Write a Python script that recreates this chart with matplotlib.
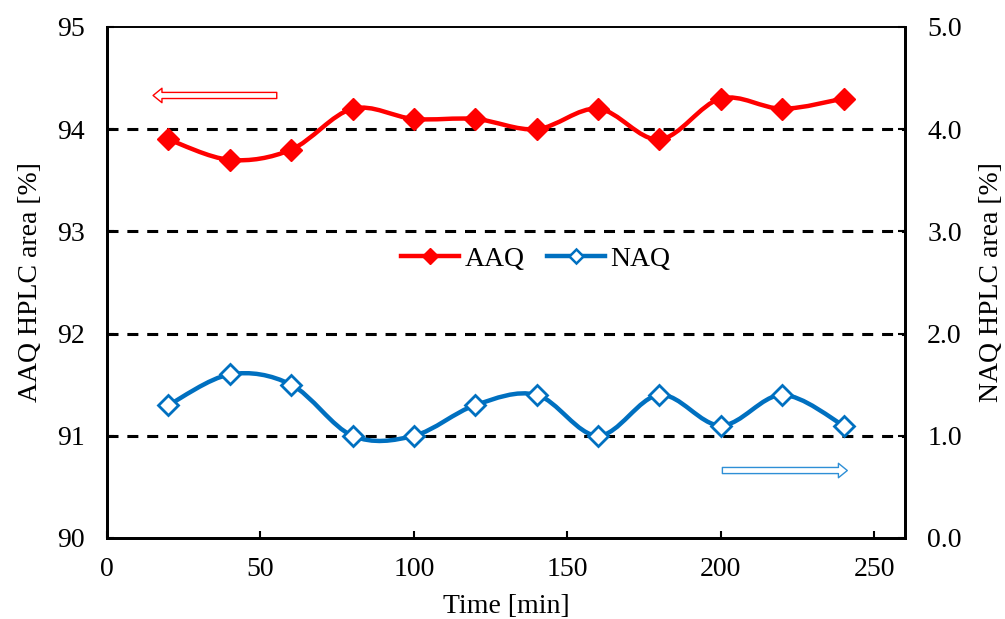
import numpy as np
import matplotlib
matplotlib.use("Agg")
import matplotlib.pyplot as plt
from matplotlib.path import Path
from matplotlib.patches import PathPatch
from matplotlib.lines import Line2D

plt.rcParams['font.family'] = ['Liberation Serif', 'DejaVu Serif']

time_min = [20, 40, 60, 80, 100, 120, 140, 160, 180, 200, 220, 240]
aaq_area = [93.9, 93.7, 93.8, 94.2, 94.1, 94.1, 94.0, 94.2, 93.9, 94.3, 94.2, 94.3]
naq_area = [1.3, 1.6, 1.5, 1.0, 1.0, 1.3, 1.4, 1.0, 1.4, 1.1, 1.4, 1.1]
x_ticks = [0, 50, 100, 150, 200, 250]
left_ticks = [90, 91, 92, 93, 94, 95]
right_ticks = [0.0, 1.0, 2.0, 3.0, 4.0, 5.0]

RED = '#FF0000'
BLUE = '#0070C0'
ARROW_BLUE = '#2E8FD6'
FS = 20


def smooth_path(xs, ys):
    """Excel-like smoothed line as cubic Bezier path through the points."""
    p = np.column_stack([xs, ys]).astype(float)
    n = len(p)
    verts = [p[0]]
    codes = [Path.MOVETO]
    for i in range(n - 1):
        p0 = p[i - 1] if i > 0 else p[i]
        p1 = p[i]
        p2 = p[i + 1]
        p3 = p[i + 2] if i + 2 < n else p[i + 1]
        c1 = p1 + (p2 - p0) / 6.0
        c2 = p2 - (p3 - p1) / 6.0
        verts += [c1, c2, p2]
        codes += [Path.CURVE4] * 3
    return Path(verts, codes)


fig = plt.figure(figsize=(10.05, 6.19), dpi=100)
ax = fig.add_axes([0.1065, 0.1309, 0.794, 0.8255])
ax2 = ax.twinx()

ax.set_xlim(0, 260)
ax.set_ylim(90, 95)
ax2.set_ylim(0, 5)

# gridlines
for v in left_ticks[1:-1]:
    ax.axhline(v, color='black', lw=2.2, ls=(0, (3.6, 2.9)), zorder=1)

# AAQ
ax.add_patch(PathPatch(smooth_path(time_min, aaq_area), fc='none', ec=RED, lw=3.2,
                       zorder=3, capstyle='round'))
ax.plot(time_min, aaq_area, ls='none', marker='D', ms=11, mfc=RED, mec=RED, zorder=4)

# NAQ
ax2.add_patch(PathPatch(smooth_path(time_min, naq_area), fc='none', ec=BLUE, lw=3.2,
                        zorder=3, capstyle='round'))
ax2.plot(time_min, naq_area, ls='none', marker='D', ms=10, mfc='white', mec=BLUE,
         mew=2.0, zorder=4)

# direction arrows
arrow_style = 'simple,head_length=0.8,head_width=1.3,tail_width=0.55'
ax.annotate('', xy=(15, 94.33), xytext=(55.3, 94.33),
            arrowprops=dict(arrowstyle=arrow_style, fc='white', ec=RED, lw=1.0,
                            mutation_scale=8, shrinkA=0, shrinkB=0))
ax2.annotate('', xy=(241.2, 0.66), xytext=(200.5, 0.66),
             arrowprops=dict(arrowstyle=arrow_style, fc='white', ec=ARROW_BLUE, lw=1.0,
                             mutation_scale=8, shrinkA=0, shrinkB=0))

# ticks and labels
ax.set_xticks(x_ticks)
ax.set_yticks(left_ticks)
ax.set_yticklabels([str(v) for v in left_ticks])
ax2.set_yticks(right_ticks)
ax2.set_yticklabels([f'{v:.1f}' for v in right_ticks])

ax.tick_params(axis='x', direction='in', length=5, width=1.5, pad=14, labelsize=FS)
ax.tick_params(axis='y', direction='in', length=5, width=1.5, pad=16, labelsize=FS)
ax2.tick_params(axis='y', direction='in', length=5, width=1.5, pad=16, labelsize=FS)

for a in (ax, ax2):
    for s in ('left', 'right', 'bottom'):
        a.spines[s].set_linewidth(2.0)
    a.spines['top'].set_linewidth(1.2)

ax.set_xlabel('Time [min]', fontsize=FS, labelpad=8)
ax.set_ylabel('AAQ HPLC area [%]', fontsize=FS, labelpad=10)
ax2.set_ylabel('NAQ HPLC area [%]', fontsize=FS, labelpad=12)

handles = [
    Line2D([], [], color=RED, lw=3.2, marker='D', ms=8, mfc=RED, mec=RED),
    Line2D([], [], color=BLUE, lw=3.2, marker='D', ms=7, mfc='white', mec=BLUE, mew=1.8),
]
ax2.legend(handles, ['AAQ', 'NAQ'], loc='center', bbox_to_anchor=(0.537, 0.545),
           ncol=2, frameon=False, fontsize=FS, handlelength=2.1, handletextpad=0.2,
           columnspacing=0.8)

fig.savefig('out.png', dpi=100)
